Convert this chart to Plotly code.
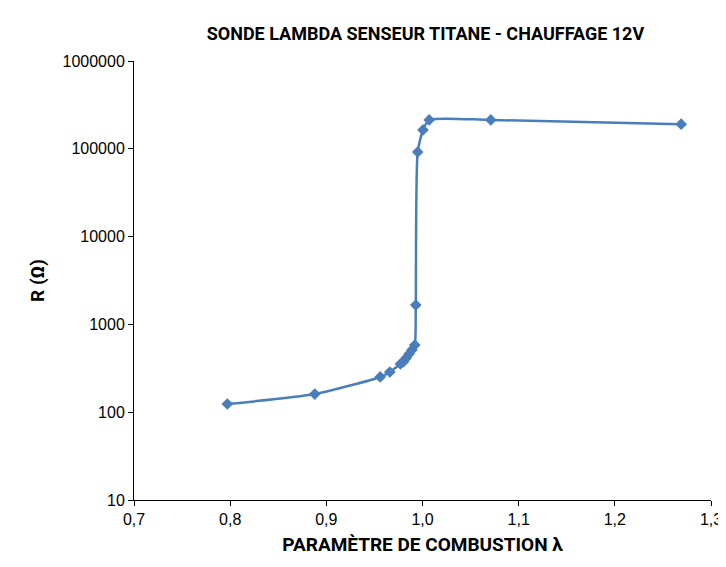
import plotly.graph_objects as go

lam = [0.797, 0.888, 0.956, 0.966, 0.977, 0.980, 0.983, 0.986, 0.989, 0.992, 0.993, 0.995, 1.0005, 1.007, 1.071, 1.269]
res = [124, 161, 252, 287, 354, 373, 414, 460, 512, 582, 1660, 92000, 164000, 213000, 213000, 191000]
x_ticks = [0.7, 0.8, 0.9, 1.0, 1.1, 1.2, 1.3]
y_ticks = [10, 100, 1000, 10000, 100000, 1000000]

fig = go.Figure(go.Scatter(
    x=lam, y=res, mode="lines+markers",
    line=dict(color="#4a7ebb", width=2.5, shape="spline", smoothing=0.6),
    marker=dict(symbol="diamond", size=9, color="#4a7ebb"),
))
fig.update_layout(
    width=726, height=567, plot_bgcolor="white", paper_bgcolor="white",
    separators=",.", showlegend=False,
    margin=dict(l=126, r=23, t=53, b=75, autoexpand=False),
    font=dict(family="Liberation Sans Narrow, Roboto, sans-serif", color="black"),
    title=dict(text="<b>SONDE LAMBDA SENSEUR TITANE - CHAUFFAGE 12V</b>", x=0.575, xanchor="center", y=0.965, font=dict(size=18)),
)
fig.update_xaxes(range=[0.7, 1.3], tickvals=x_ticks, tickformat=".1f", showline=True, linecolor="black",
                 ticks="outside", ticklen=5, tickcolor="black", showgrid=False, zeroline=False, automargin=False,
                 tickfont=dict(size=16, family="Liberation Sans, Arial"),
                 title=dict(text="<b>PARAMÈTRE DE COMBUSTION λ</b>", font=dict(size=19), standoff=10))
fig.update_yaxes(type="log", range=[1, 6], tickvals=y_ticks, tickformat="d", showline=True, linecolor="black",
                 ticks="outside", ticklen=5, tickcolor="black", showgrid=False, automargin=False,
                 tickfont=dict(size=16, family="Liberation Sans, Arial"),
                 title=dict(text="<b>R (Ω)</b>", font=dict(size=19), standoff=12))
fig.write_html("out.html")
